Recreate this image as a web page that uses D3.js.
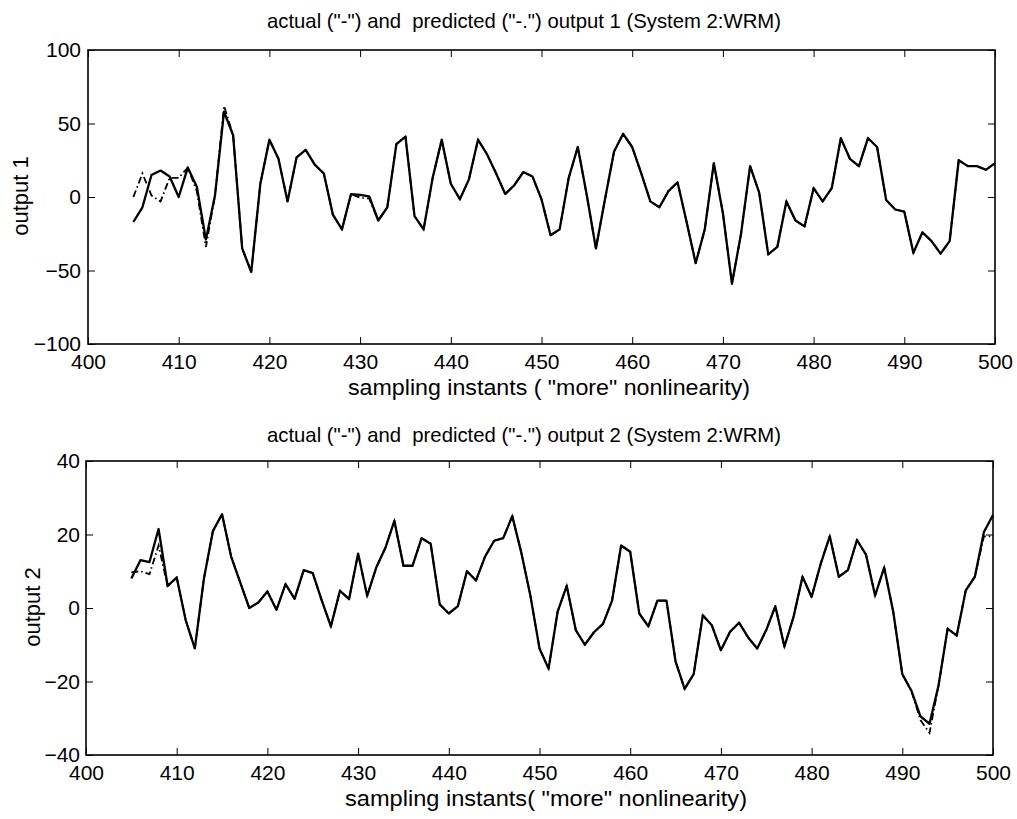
<!DOCTYPE html>
<meta charset="utf-8">
<style>
body {
  margin: 0;
  background: #fff;
}

svg {
  font-family: "Liberation Sans", Arial, Helvetica, sans-serif;
}

.frame {
  fill: none;
  stroke: #000;
  stroke-width: 1.6px;
}

.tick line {
  stroke: #000;
  stroke-width: 1px;
}

.tick text {
  fill: #000;
}

.actual {
  fill: none;
  stroke: #000;
  stroke-width: 2.3px;
  stroke-linejoin: round;
}

.predicted {
  fill: none;
  stroke: #000;
  stroke-width: 1.8px;
  stroke-dasharray: 7, 3, 1.5, 3;
}
</style>
<div id="chart"></div>
<script src="https://d3js.org/d3.v7.min.js"></script>
<script>
  // sampling instants 405 .. 500
  var instants = d3.range(405, 501);

  var output1Actual = [
    -17, -7, 15, 18, 14, 0, 20, 7, -29, 1,
    58, 42, -35, -51, 9, 39, 26, -3, 27, 32,
    22, 16, -12, -22, 2, 1.5, 0.5, -16, -7, 36,
    41, -13, -22, 13, 39, 9, -1.5, 12, 39, 29,
    16, 2, 8, 17, 14, -1.5, -26, -22, 13, 34,
    1, -35, -1.5, 31, 43, 34, 16, -3, -7, 4,
    10, -17, -45, -22, 23, -11, -59, -25, 21, 3,
    -39, -34, -3, -16, -20, 6, -3, 6, 40, 26,
    21, 40, 34, -2, -8.5, -10, -38, -24, -30, -38.5,
    -30, 25, 21, 21, 18.5, 23
  ];

  var output1Predicted = [
    0, 16, 1, -3, 13, 13, 20, 4, -34, 1,
    62, 42, -35, -51, 9, 39, 26, -3, 27, 32,
    22, 16, -12, -22, 2, -0.5, -1, -16, -7, 36,
    41, -13, -22, 13, 39, 9, -1.5, 12, 39, 29,
    16, 2, 8, 17, 14, -1.5, -26, -22, 13, 34,
    1, -35, -1.5, 31, 43, 34, 16, -3, -7, 4,
    10, -17, -45, -22, 23, -11, -59, -25, 21, 3,
    -39, -34, -3, -16, -20, 6, -3, 6, 40, 26,
    21, 40, 34, -2, -8.5, -10, -38, -24, -30, -38.5,
    -30, 25, 21, 21, 18.5, 23
  ];

  var output2Actual = [
    8, 13, 12.5, 21.5, 6, 8.3, -3.4, -11, 8, 21,
    25.5, 14, 7, 0, 1.5, 4.5, -0.5, 6.5, 2.5, 10.3,
    9.5, 2, -5, 4.7, 2.4, 14.8, 3.3, 11, 16.3, 23.7,
    11.5, 11.5, 19, 17.5, 1, -1.5, 0.5, 10, 7.5, 14,
    18.3, 19, 25, 15, 3.3, -11, -16.5, -1, 6, -6,
    -10, -6.6, -4.3, 2, 17, 15.3, -1.5, -5, 2, 2,
    -14.5, -22, -18, -2, -4.7, -11.5, -6.5, -4, -8, -11,
    -6, 0.5, -10.5, -2.5, 8.5, 3, 12, 19.5, 8.5, 10.3,
    18.5, 14.5, 3.4, 11, -1, -18, -22.5, -29.5, -31.5, -21,
    -5.6, -7.5, 4.8, 8.5, 20.7, 25.3
  ];

  var output2Predicted = [
    9.7, 10, 9.2, 17, 6, 8.3, -3.4, -11, 8, 21,
    25.5, 14, 7, 0, 1.5, 4.5, -0.5, 6.5, 2.5, 10.3,
    9.5, 2, -5, 4.7, 2.4, 14.8, 3.3, 11, 16.3, 23.7,
    11.5, 11.5, 19, 17.5, 1, -1.5, 0.5, 10, 7.5, 14,
    18.3, 19, 25, 15, 3.3, -11, -16.5, -1, 6, -6,
    -10, -6.6, -4.3, 2, 17, 15.3, -1.5, -5, 2, 2,
    -14.5, -22, -18, -2, -4.7, -11.5, -6.5, -4, -8, -11,
    -6, 0.5, -10.5, -2.5, 8.5, 3, 12, 19.5, 8.5, 10.3,
    18.5, 14.5, 3.4, 11, -1, -18, -22.5, -30.5, -34, -21,
    -5.6, -7.5, 4.8, 8.5, 19.5, 19.5
  ];

  var xTicks = [400, 410, 420, 430, 440, 450, 460, 470, 480, 490, 500];
  var output1Ticks = [-100, -50, 0, 50, 100];
  var output2Ticks = [-40, -20, 0, 20, 40];

  var titles = [
    'actual ("-") and  predicted ("-.") output 1 (System 2:WRM)',
    'actual ("-") and  predicted ("-.") output 2 (System 2:WRM)'
  ];
  var xLabels = [
    'sampling instants ( "more" nonlinearity)',
    'sampling instants( "more" nonlinearity)'
  ];
  var yLabels = ["output 1", "output 2"];

  var width = 1017, height = 819;

  var svg =
    d3.select("#chart")
      .append("svg")
      .attr("width", width)
      .attr("height", height);

  var panels = [
    {left: 88, right: 995, top: 50, bottom: 344, domain: [-100, 100], ticks: output1Ticks,
     actual: output1Actual, predicted: output1Predicted,
     title: titles[0], titleX: 524, titleY: 28,
     xLabel: xLabels[0], xLabelX: 549, xLabelY: 395,
     yLabel: yLabels[0], yLabelX: 20, yLabelY: 196, yPad: 7},
    {left: 86, right: 993, top: 461, bottom: 755, domain: [-40, 40], ticks: output2Ticks,
     actual: output2Actual, predicted: output2Predicted,
     title: titles[1], titleX: 524, titleY: 442,
     xLabel: xLabels[1], xLabelX: 546, xLabelY: 806,
     yLabel: yLabels[1], yLabelX: 32, yLabelY: 607, yPad: 6}
  ];

  panels.forEach(function(p) {
    var x = d3.scaleLinear().domain([400, 500]).range([p.left, p.right]);
    var y = d3.scaleLinear().domain(p.domain).range([p.bottom, p.top]);

    var g = svg.append("g");

    function styleAxis(sel) {
      sel.attr("font-size", 21)
         .attr("font-family", '"Liberation Sans", Arial, Helvetica, sans-serif');
      sel.select(".domain").remove();
    }

    g.append("g")
      .attr("transform", "translate(0," + p.bottom + ")")
      .call(d3.axisBottom(x).tickValues(xTicks).tickSizeInner(-7).tickSizeOuter(0).tickPadding(10))
      .call(styleAxis);

    g.append("g")
      .attr("transform", "translate(0," + p.top + ")")
      .call(d3.axisTop(x).tickValues(xTicks).tickSizeInner(-7).tickSizeOuter(0).tickFormat(""))
      .call(styleAxis);

    g.append("g")
      .attr("transform", "translate(" + p.left + ",0)")
      .call(d3.axisLeft(y).tickValues(p.ticks).tickSizeInner(-7).tickSizeOuter(0).tickPadding(p.yPad))
      .call(styleAxis);

    g.append("g")
      .attr("transform", "translate(" + p.right + ",0)")
      .call(d3.axisRight(y).tickValues(p.ticks).tickSizeInner(-7).tickSizeOuter(0).tickFormat(""))
      .call(styleAxis);

    g.append("rect")
      .attr("class", "frame")
      .attr("x", p.left)
      .attr("y", p.top)
      .attr("width", p.right - p.left)
      .attr("height", p.bottom - p.top);

    var line =
      d3.line()
        .x(function(d, i) { return x(instants[i]); })
        .y(function(d) { return y(d); });

    g.append("path")
      .datum(p.predicted)
      .attr("class", "predicted")
      .attr("d", line);

    g.append("path")
      .datum(p.actual)
      .attr("class", "actual")
      .attr("d", line);

    g.append("text")
      .attr("x", p.titleX)
      .attr("y", p.titleY)
      .attr("text-anchor", "middle")
      .attr("font-size", 21)
      .attr("textLength", 514)
      .attr("lengthAdjust", "spacingAndGlyphs")
      .style("white-space", "pre")
      .text(p.title);

    g.append("text")
      .attr("x", p.xLabelX)
      .attr("y", p.xLabelY)
      .attr("text-anchor", "middle")
      .attr("font-size", 22)
      .attr("textLength", 402)
      .attr("lengthAdjust", "spacingAndGlyphs")
      .style("white-space", "pre")
      .text(p.xLabel);

    g.append("text")
      .attr("transform", "translate(" + p.yLabelX + "," + p.yLabelY + ") rotate(-90)")
      .attr("text-anchor", "middle")
      .attr("dy", "0.35em")
      .attr("font-size", 22)
      .text(p.yLabel);
  });
</script>
